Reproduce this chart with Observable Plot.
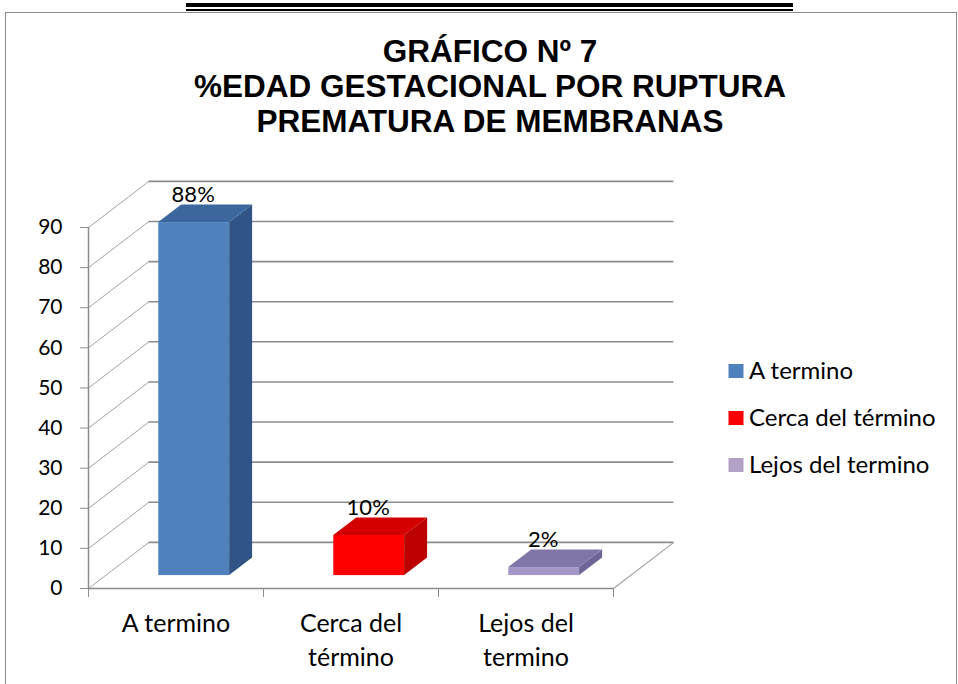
<!DOCTYPE html>
<html>
<head>
<meta charset="utf-8">
<script src="https://cdn.jsdelivr.net/npm/d3@7"></script>
<script src="https://cdn.jsdelivr.net/npm/@observablehq/plot@0.6"></script>
<style>
  body { margin: 0; background: #fff; }
  #page { position: relative; width: 958px; height: 684px; overflow: hidden; background: #fff; }
  .rule1 { position: absolute; left: 186px; width: 607px; top: 3px; height: 4px; background: #000; }
  .rule2 { position: absolute; left: 186px; width: 607px; top: 9px; height: 2px; background: #000; }
  .frame { position: absolute; left: 5px; top: 12px; width: 952px; height: 720px; border: 1px solid #8a8a8a; box-sizing: border-box; }
  #title { position: absolute; left: 0; width: 980px; top: 34px; text-align: center;
           font: bold 31.5px "Liberation Sans", Arial, sans-serif; line-height: 35px; color: #000; }
  #chart { position: absolute; left: 0; top: 150px; }
  #legend { position: absolute; left: 0; top: 0; }
</style>
</head>
<body>
<div id="page">
  <div class="rule1"></div>
  <div class="rule2"></div>
  <div class="frame"></div>
  <div id="title">GRÁFICO Nº 7<br>%EDAD GESTACIONAL POR RUPTURA<br>PREMATURA DE MEMBRANAS</div>
  <div id="chart"></div>
  <svg id="legend" width="958" height="684"></svg>
</div>
<script>
// ---- data ----
const categories = ["A termino", "Cerca del término", "Lejos del termino"];
const axisLabels = ["A termino", "Cerca del\ntérmino", "Lejos del\ntermino"];
const values = [88, 10, 2];
const valueLabels = ["88%", "10%", "2%"];
const yTicks = [0, 10, 20, 30, 40, 50, 60, 70, 80, 90];

// ---- styles ----
const frontColors = ["#4F81BD", "#FF0000", "#A497C7"];
const topColors   = ["#3C679E", "#D40000", "#8276A8"];
const sideColors  = ["#2F5485", "#BC0000", "#6F6493"];
const legendColors = ["#4F81BD", "#FF0000", "#B3A2C7"];

// 3D depth (in scale units) and bar placement within the depth
const DX = 0.345, DY = 11.5;
const F1 = 0.28, F2 = 0.66, FM = 0.47;
const BL = 0.305, BR = 0.71;

const rows = categories.map((c, i) => ({c, i, v: values[i], label: valueLabels[i], axis: axisLabels[i]}));

const barMarks = rows.flatMap(r => {
  const i = r.i, v = r.v;
  return [
    Plot.rect([r], {
      x1: () => i + BL + F1 * DX, x2: () => i + BR + F1 * DX,
      y1: () => F1 * DY, y2: () => v + F1 * DY,
      fill: frontColors[i]
    }),
    Plot.areaY([
      {x: i + BR + F1 * DX, y1: F1 * DY, y2: v + F1 * DY},
      {x: i + BR + F2 * DX, y1: F2 * DY, y2: v + F2 * DY}
    ], {x: "x", y1: "y1", y2: "y2", fill: sideColors[i]}),
    Plot.areaX([
      {y: v + F1 * DY, x1: i + BL + F1 * DX, x2: i + BR + F1 * DX},
      {y: v + F2 * DY, x1: i + BL + F2 * DX, x2: i + BR + F2 * DX}
    ], {y: "y", x1: "x1", x2: "x2", fill: topColors[i]})
  ];
});

const chart = Plot.plot({
  width: 958,
  height: 534,
  marginLeft: 88,
  marginRight: 345,
  marginTop: 77,
  marginBottom: 96,
  x: {domain: [0, 3]},
  y: {domain: [0, 90]},
  style: {fontFamily: "Lato, sans-serif", background: "transparent", overflow: "visible", color: "#000"},
  marks: [
    // back wall gridlines
    Plot.ruleY(yTicks, {y: d => d + DY, x1: DX, x2: 3 + DX, stroke: "#8c8c8c", strokeWidth: 1.6}),
    // side wall diagonals
    Plot.link(yTicks, {x1: 0, y1: d => d, x2: DX, y2: d => d + DY, stroke: "#a3a3a3", strokeWidth: 1}),
    // floor right edge
    Plot.link([0], {x1: 3, y1: 0, x2: 3 + DX, y2: DY, stroke: "#a3a3a3", strokeWidth: 1.2}),
    // front floor edge and y axis line
    Plot.ruleY([0], {x1: 0, x2: 3, stroke: "#8c8c8c", strokeWidth: 1.5}),
    Plot.ruleX([0], {y1: 0, y2: 90, stroke: "#8c8c8c", strokeWidth: 1.5}),
    Plot.axisY({ticks: yTicks, tickSize: 8, tickPadding: 18, fontSize: 21, stroke: "#8c8c8c", fill: "#000", label: null}),
    Plot.axisX({ticks: [0, 1, 2, 3], tickSize: 9, tickFormat: () => "", stroke: "#8c8c8c", label: null}),
    ...barMarks,
    Plot.text(rows, {x: d => d.i + (BL + BR) / 2 + FM * DX, y: d => d.v + FM * DY, text: "label",
      dx: -12.5, dy: -12, lineAnchor: "bottom", fontSize: 22, fill: "#000"}),
    Plot.text(rows, {x: d => d.i + 0.5, y: 0, text: "axis", lineAnchor: "top", dy: 19,
      fontSize: 25, lineHeight: 1.36, fill: "#000"})
  ]
});
document.getElementById("chart").appendChild(chart);

// ---- legend ----
const legendTops = [364, 411, 458];
const lg = d3.select("#legend");
categories.forEach((c, i) => {
  lg.append("rect").attr("x", 728.5).attr("y", legendTops[i]).attr("width", 15).attr("height", 14).attr("fill", legendColors[i]);
  lg.append("text").attr("x", 749).attr("y", legendTops[i] + 15)
    .attr("font-family", "Lato, sans-serif").attr("font-size", 24).attr("fill", "#000").text(c);
});
</script>
</body>
</html>
